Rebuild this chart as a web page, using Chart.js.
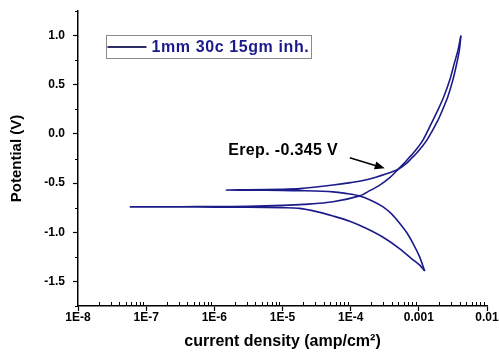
<!DOCTYPE html>
<html>
<head>
<meta charset="utf-8">
<script src="https://cdn.jsdelivr.net/npm/chart.js@4.4.1/dist/chart.umd.min.js"></script>
<style>
  html, body { margin: 0; padding: 0; background: #fff; }
  #wrap { width: 499px; height: 356px; position: relative; }
</style>
</head>
<body>
<div id="wrap"><canvas id="chartPolar"></canvas></div>
<script>
const seriesLabel = '1mm 30c 15gm inh.';

// forward scan: cathodic branch up to Ecorr, then anodic up to 1.0 V
const forwardCurrent = [1.22e-3, 1.04e-3, 7.88e-4, 5.26e-4, 2.99e-4, 1.71e-4, 9.7e-5, 5.52e-5, 3.16e-5, 1.79e-5,
    1.0e-5, 3.16e-6, 1.0e-6, 3.16e-7, 1.0e-7, 5.75e-8, 1.0e-7, 3.16e-7, 1.0e-6, 3.16e-6,
    1.0e-5, 2.04e-5, 5.52e-5, 1.35e-4, 1.91e-4, 2.67e-4, 3.75e-4, 4.97e-4, 6.08e-4, 7.13e-4,
    8.24e-4, 9.84e-4, 1.156e-3, 1.62e-3, 1.97e-3, 2.33e-3, 2.85e-3, 3.32e-3, 3.77e-3, 4.14e-3];
const forwardPotential = [-1.395, -1.337, -1.27, -1.168, -1.051, -0.962, -0.888, -0.835, -0.79, -0.757,
    -0.750, -0.746, -0.744, -0.743, -0.742, -0.742, -0.741, -0.740, -0.739, -0.735,
    -0.727, -0.717, -0.69, -0.63, -0.577, -0.520, -0.444, -0.36, -0.30, -0.245,
    -0.197, -0.13, -0.061, 0.143, 0.265, 0.38, 0.55, 0.72, 0.857, 1.0];

// reverse scan: from 1.0 V back down to -1.4 V
const reverseCurrent = [4.14e-3, 3.94e-3, 3.61e-3, 3.16e-3, 2.67e-3, 2.29e-3, 1.92e-3, 1.32e-3, 1.11e-3, 9.25e-4,
    7.88e-4, 6.59e-4, 4.97e-4, 3.36e-4, 1.78e-4, 1.0e-4, 5.52e-5, 1.79e-5, 1.0e-5, 3.16e-6,
    1.5e-6, 3.16e-6, 1.0e-5, 1.79e-5, 5.52e-5, 8.5e-5, 1.35e-4, 2.04e-4, 2.99e-4, 4.01e-4,
    5.26e-4, 6.67e-4, 8.24e-4, 1.02e-3, 1.22e-3];
const reversePotential = [1.0, 0.857, 0.72, 0.55, 0.38, 0.265, 0.143, -0.061, -0.13, -0.197,
    -0.245, -0.30, -0.36, -0.406, -0.464, -0.495, -0.520, -0.556, -0.563, -0.568,
    -0.571, -0.572, -0.574, -0.577, -0.589, -0.605, -0.63, -0.679, -0.742, -0.816,
    -0.911, -1.005, -1.115, -1.245, -1.395];

const xMajorTicks = [1e-8, 1e-7, 1e-6, 1e-5, 1e-4, 1e-3, 1e-2];
const xTickLabels = ['1E-8', '1E-7', '1E-6', '1E-5', '1E-4', '0.001', '0.01'];
const yTickValues = [-1.5, -1.0, -0.5, 0.0, 0.5, 1.0];
const yTickLabels = ['-1.5', '-1.0', '-0.5', '0.0', '0.5', '1.0'];

const erepLabel = 'Erep. -0.345 V';
const erepTextPos = { x: 1.6e-6, y: -0.17 };
const erepArrowFrom = { x: 9.7e-5, y: -0.242 };
const erepArrowTo = { x: 3.16e-4, y: -0.35 };

const FONT = "'Liberation Sans', Arial, sans-serif";
const LINE_COLOR = '#1b1b8a';

// decade ticks plus 2..9 in between
const xAllTicks = [];
xMajorTicks.forEach((m, i) => {
    xAllTicks.push(m);
    if (i < xMajorTicks.length - 1) {
        for (let k = 2; k <= 9; k++) xAllTicks.push(k * m);
    }
});
const xMinorTicks = xAllTicks.filter(v => !xMajorTicks.includes(v));
const yMinorTicks = [-1.75, -1.25, -0.75, -0.25, 0.25, 0.75, 1.25];

const toPoints = (xs, ys) => xs.map((v, i) => ({ x: v, y: ys[i] }));

const overlayPlugin = {
    id: 'overlay',
    afterDraw(chart) {
        const { ctx, chartArea, scales: { x, y } } = chart;
        ctx.save();

        // minor ticks
        ctx.strokeStyle = '#000';
        ctx.lineWidth = 1;
        ctx.beginPath();
        xMinorTicks.forEach(v => {
            const px = Math.round(x.getPixelForValue(v)) + 0.5;
            ctx.moveTo(px, chartArea.bottom);
            ctx.lineTo(px, chartArea.bottom - 4);
        });
        yMinorTicks.forEach(v => {
            const py = Math.round(y.getPixelForValue(v)) + 0.5;
            ctx.moveTo(chartArea.left, py);
            ctx.lineTo(chartArea.left - 3, py);
        });
        ctx.stroke();

        // legend box
        const lx = Math.round(chartArea.left + 28) + 0.5;
        const ly = Math.round(chartArea.top + 24) + 0.5;
        ctx.strokeStyle = '#8a8a8a';
        ctx.lineWidth = 1;
        ctx.strokeRect(lx, ly, 205, 23);
        ctx.strokeStyle = '#2e2e66';
        ctx.lineWidth = 2;
        ctx.beginPath();
        ctx.moveTo(lx + 1, ly + 11.5);
        ctx.lineTo(lx + 40, ly + 11.5);
        ctx.stroke();
        ctx.fillStyle = '#1a1a8c';
        ctx.font = 'bold 16px ' + FONT;
        ctx.textBaseline = 'middle';
        ctx.textAlign = 'left';
        ctx.letterSpacing = '0.6px';
        ctx.fillText(chart.data.datasets[0].label, lx + 45, ly + 12);

        // Erep annotation
        ctx.fillStyle = '#000';
        ctx.letterSpacing = '0.35px';
        ctx.fillText(erepLabel, x.getPixelForValue(erepTextPos.x), y.getPixelForValue(erepTextPos.y));
        ctx.letterSpacing = '0px';
        const x0 = x.getPixelForValue(erepArrowFrom.x), y0 = y.getPixelForValue(erepArrowFrom.y);
        const x1 = x.getPixelForValue(erepArrowTo.x), y1 = y.getPixelForValue(erepArrowTo.y);
        const ang = Math.atan2(y1 - y0, x1 - x0);
        const head = 10;
        ctx.strokeStyle = '#000';
        ctx.lineWidth = 1.5;
        ctx.beginPath();
        ctx.moveTo(x0, y0);
        ctx.lineTo(x1 - head * Math.cos(ang), y1 - head * Math.sin(ang));
        ctx.stroke();
        ctx.beginPath();
        ctx.moveTo(x1, y1);
        ctx.lineTo(x1 - head * Math.cos(ang) + 4 * Math.sin(ang), y1 - head * Math.sin(ang) - 4 * Math.cos(ang));
        ctx.lineTo(x1 - head * Math.cos(ang) - 4 * Math.sin(ang), y1 - head * Math.sin(ang) + 4 * Math.cos(ang));
        ctx.closePath();
        ctx.fill();

        ctx.restore();
    }
};

Chart.defaults.font.family = FONT;
Chart.defaults.color = '#000';

new Chart(document.getElementById('chartPolar'), {
    type: 'scatter',
    data: {
        datasets: [{
            label: seriesLabel,
            data: toPoints(forwardCurrent, forwardPotential),
            showLine: true,
            borderColor: LINE_COLOR,
            borderWidth: 1.6,
            pointRadius: 0,
            tension: 0.3
        }, {
            label: seriesLabel,
            data: toPoints(reverseCurrent, reversePotential),
            showLine: true,
            borderColor: LINE_COLOR,
            borderWidth: 1.6,
            pointRadius: 0,
            tension: 0.3
        }]
    },
    options: {
        responsive: true,
        maintainAspectRatio: false,
        animation: false,
        layout: { padding: { top: 11, right: 12, bottom: 0, left: 0 } },
        plugins: {
            legend: { display: false },
            tooltip: { enabled: false }
        },
        scales: {
            x: {
                type: 'logarithmic',
                min: 1e-8,
                max: 1e-2,
                afterBuildTicks: s => {
                    s.ticks = xAllTicks.map(v => ({ value: v, major: xMajorTicks.includes(v) }));
                },
                afterFit: s => {
                    s.height = 50;
                    s.paddingLeft = 0;
                    s.paddingRight = 0;
                },
                border: { color: '#000', width: 1.5 },
                grid: {
                    drawOnChartArea: false,
                    drawTicks: true,
                    tickLength: 5,
                    tickWidth: 1.2,
                    tickColor: c => (c.tick && c.tick.major) ? '#000' : 'rgba(0,0,0,0)'
                },
                ticks: {
                    autoSkip: false,
                    maxRotation: 0,
                    padding: -1,
                    font: { size: 12, weight: 'bold' },
                    callback: v => {
                        const i = xMajorTicks.indexOf(v);
                        return i >= 0 ? xTickLabels[i] : '';
                    }
                },
                title: {
                    display: true,
                    text: 'current density (amp/cm²)',
                    font: { size: 16, weight: 'bold' },
                    padding: { top: 0, bottom: 5 }
                }
            },
            y: {
                min: -1.75,
                max: 1.25,
                afterFit: s => {
                    s.width = 78;
                    s.paddingTop = 0;
                    s.paddingBottom = 0;
                },
                border: { color: '#000', width: 1.5 },
                grid: {
                    drawOnChartArea: false,
                    drawTicks: true,
                    tickLength: 5,
                    tickWidth: 1.2,
                    tickColor: c => (c.tick && yTickValues.includes(c.tick.value)) ? '#000' : 'rgba(0,0,0,0)'
                },
                ticks: {
                    stepSize: 0.25,
                    autoSkip: false,
                    padding: 8,
                    font: { size: 12, weight: 'bold' },
                    callback: v => {
                        const i = yTickValues.indexOf(v);
                        return i >= 0 ? yTickLabels[i] : '';
                    }
                },
                title: {
                    display: true,
                    text: 'Potential (V)',
                    font: { size: 15, weight: 'bold' },
                    padding: { top: 8, bottom: 0 }
                }
            }
        }
    },
    plugins: [overlayPlugin]
});
</script>
</body>
</html>
